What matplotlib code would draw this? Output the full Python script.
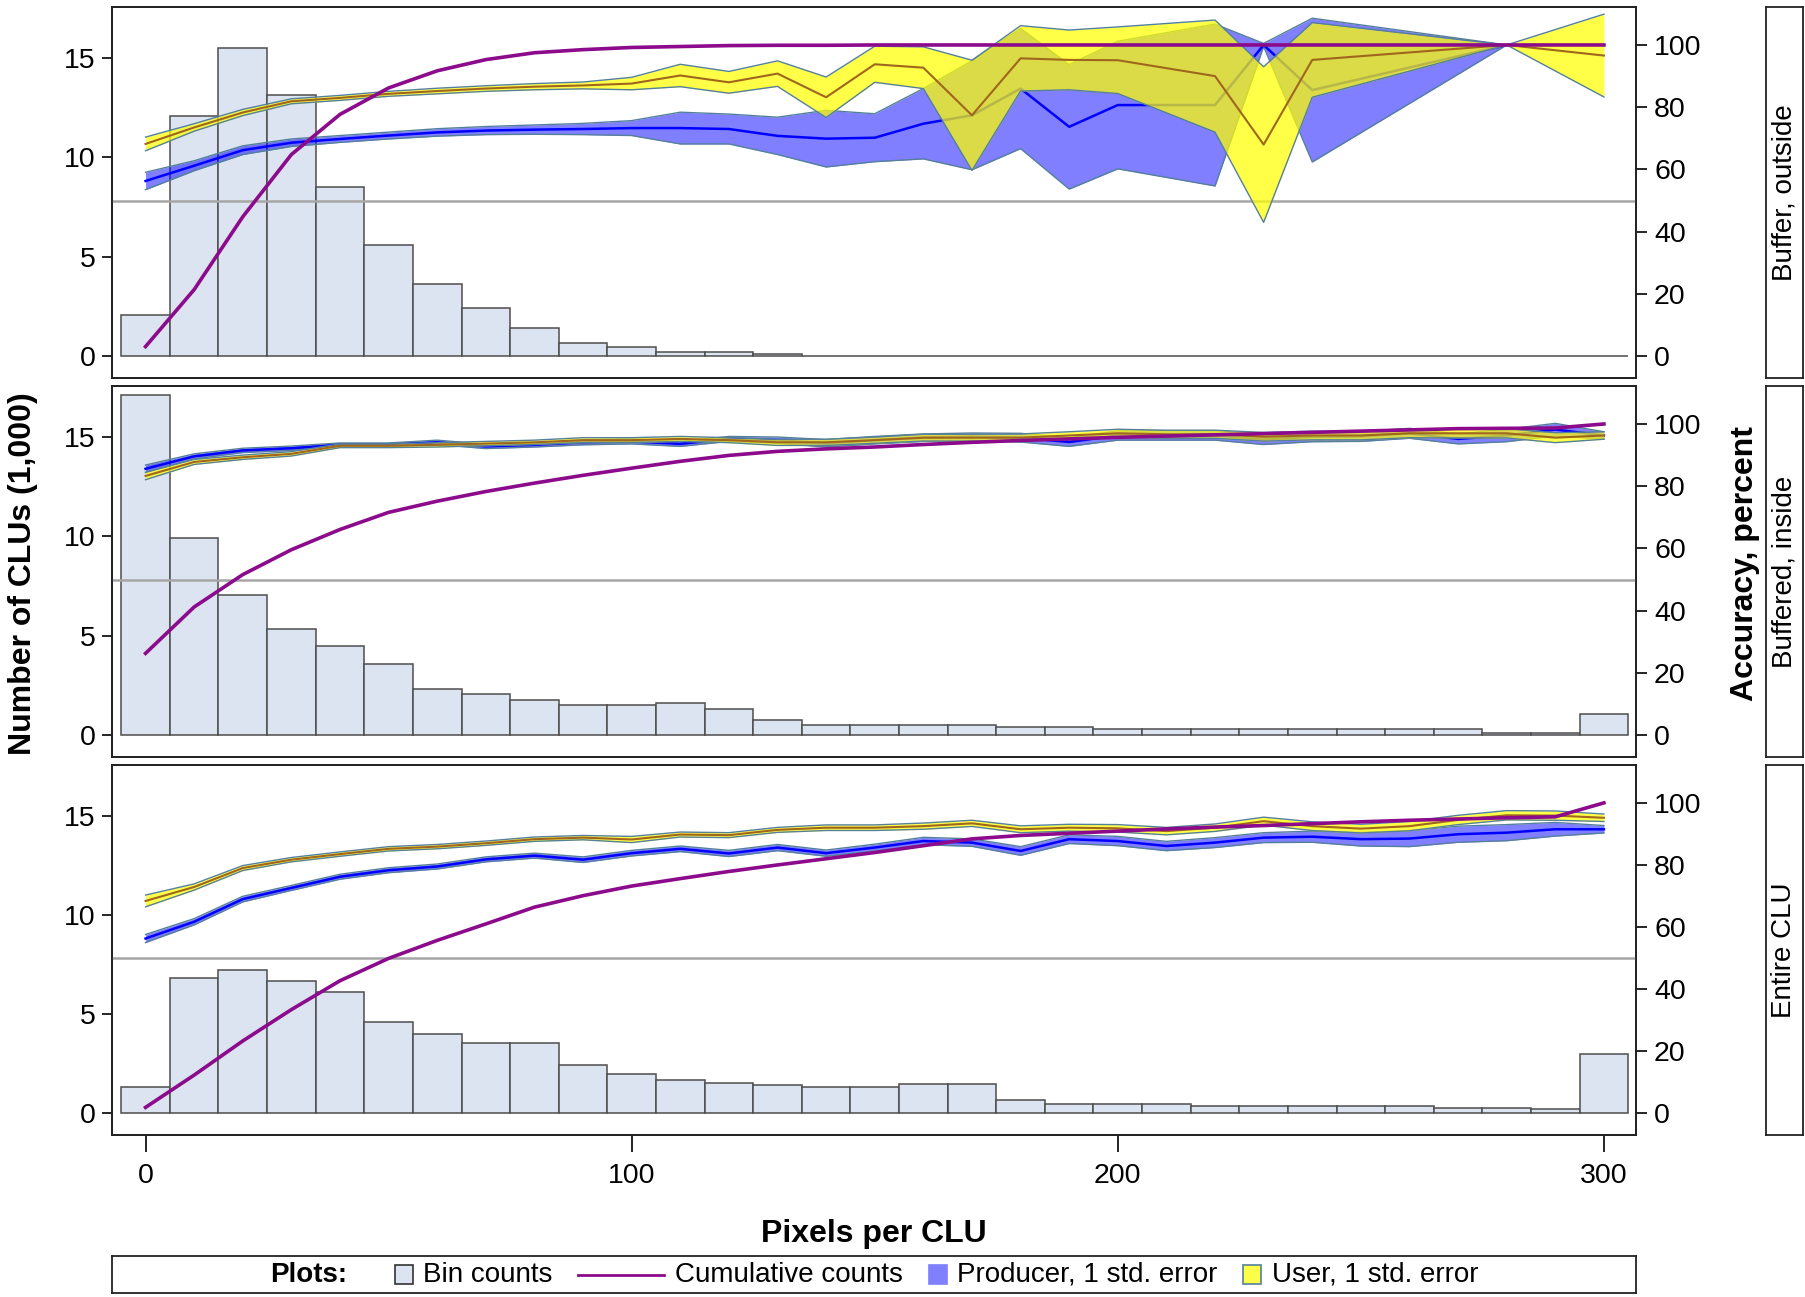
import numpy as np
import matplotlib.pyplot as plt
import matplotlib.patches as mpatches
from matplotlib.lines import Line2D
from matplotlib.offsetbox import HPacker, TextArea, DrawingArea, AnchoredOffsetbox

plt.rcParams['font.family'] = ['Liberation Sans', 'DejaVu Sans']

# bin centres (pixels per CLU)
bin_x = list(range(0, 301, 10))

# ---- panel 1: Buffer, outside
p1_bins = [2.05, 12.05, 15.47, 13.15, 8.52, 5.57, 3.62, 2.42, 1.41, 0.67, 0.47, 0.20, 0.20, 0.10,
           0.02, 0.01, 0.01, 0.01, 0.01, 0.01, 0.01, 0, 0.01, 0.01, 0.01, 0, 0, 0, 0.01, 0, 0.01]
p1_cum = [3.1, 21.4, 44.8, 64.8, 77.7, 86.2, 91.7, 95.3, 97.5, 98.5, 99.2, 99.5, 99.8, 99.9, 99.9,
          100, 100, 100, 100, 100, 100, 100, 100, 100, 100, 100, 100, 100, 100, 100, 100]
p1_acc_x = [0, 10, 20, 30, 40, 50, 60, 70, 80, 90, 100, 110, 120, 130, 140, 150, 160, 170, 180, 190, 200,
            220, 230, 240, 280, 300]
p1_prod = [56.3, 61.2, 66.2, 68.6, 69.8, 70.9, 71.9, 72.5, 72.8, 73.0, 73.3, 73.3, 73.0, 70.8, 69.9, 70.2,
           74.7, 77.4, 86.0, 73.7, 80.7, 80.7, 100.0, 85.5, 100.0, np.nan]
p1_prod_se = [2.8, 1.6, 1.4, 1.2, 1.1, 1.1, 1.2, 1.3, 1.5, 1.8, 2.4, 5.1, 4.8, 6.0, 9.1, 7.7,
              11.3, 17.5, 19.3, 20.0, 20.5, 26.0, 0.5, 23.1, 0.0, np.nan]
p1_user = [68.2, 73.5, 78.3, 81.9, 83.0, 84.3, 85.2, 86.0, 86.6, 87.0, 87.6, 90.2, 88.0, 90.8, 83.2, 93.8,
           92.7, 77.4, 95.7, 95.2, 95.1, 90.0, 68.0, 95.2, 100.0, 96.6]
p1_user_se = [2.2, 1.2, 1.0, 0.8, 0.8, 0.8, 0.9, 0.9, 1.0, 1.1, 2.0, 3.6, 3.5, 4.1, 6.5, 5.8,
              6.7, 17.7, 10.5, 9.6, 10.7, 18.0, 25.0, 12.0, 0.0, 13.3]

# ---- panel 2: Buffered, inside
p2_bins = [17.12, 9.92, 7.05, 5.31, 4.47, 3.55, 2.33, 2.08, 1.78, 1.51, 1.51, 1.61, 1.32, 0.77, 0.49,
           0.49, 0.49, 0.50, 0.40, 0.40, 0.30, 0.30, 0.30, 0.30, 0.30, 0.30, 0.30, 0.30, 0.12, 0.12, 1.04]
p2_cum = [26.3, 41.2, 51.6, 59.6, 66.1, 71.6, 75.2, 78.3, 81.0, 83.5, 85.8, 88.0, 89.9, 91.2, 92.0,
          92.6, 93.4, 94.1, 94.7, 95.2, 95.7, 96.1, 96.5, 96.9, 97.3, 97.7, 98.1, 98.5, 98.6, 98.7, 100]
p2_acc_x = bin_x
p2_prod = [85.6, 89.6, 91.5, 92.2, 93.3, 93.3, 94.1, 92.8, 93.3, 94.1, 94.4, 93.6, 95.2, 94.8, 93.8,
           94.8, 95.6, 95.9, 95.6, 94.2, 96.3, 96.3, 96.3, 95.0, 95.9, 96.0, 97.0, 95.2, 96.3, 98.2, 96.3]
p2_prod_se = [1.2, 0.8, 0.7, 0.7, 0.6, 0.6, 0.7, 0.7, 0.7, 0.8, 0.8, 0.8, 0.8, 1.0, 1.2,
              1.2, 1.2, 1.2, 1.4, 1.4, 1.5, 1.5, 1.5, 1.6, 1.6, 1.6, 1.6, 1.6, 2.0, 2.0, 1.2]
p2_user = [83.3, 87.8, 89.3, 90.4, 93.0, 93.0, 93.3, 93.7, 94.1, 94.8, 94.8, 95.2, 94.8, 94.1, 94.1,
           94.8, 95.6, 95.6, 95.6, 96.3, 97.0, 96.7, 96.7, 95.9, 96.3, 96.3, 97.0, 97.0, 97.0, 95.6, 96.3]
p2_user_se = [1.2, 0.8, 0.7, 0.7, 0.6, 0.6, 0.7, 0.7, 0.7, 0.8, 0.8, 0.8, 0.8, 1.0, 1.0,
              1.0, 1.1, 1.1, 1.2, 1.2, 1.3, 1.3, 1.3, 1.4, 1.4, 1.4, 1.4, 1.5, 1.5, 1.6, 1.2]

# ---- panel 3: Entire CLU
p3_bins = [1.31, 6.83, 7.22, 6.68, 6.11, 4.62, 3.99, 3.52, 3.52, 2.43, 1.96, 1.68, 1.51, 1.41, 1.31,
           1.31, 1.47, 1.47, 0.67, 0.47, 0.47, 0.47, 0.37, 0.37, 0.37, 0.37, 0.37, 0.27, 0.27, 0.20, 2.96]
p3_cum = [1.9, 12.3, 23.3, 33.4, 42.7, 49.9, 55.7, 61.0, 66.4, 70.1, 73.2, 75.6, 77.9, 80.0, 82.0,
          84.0, 86.2, 88.4, 89.5, 90.2, 90.9, 91.6, 92.2, 92.7, 93.3, 93.9, 94.4, 94.8, 95.2, 95.5, 100]
p3_acc_x = bin_x
p3_prod = [56.3, 61.7, 69.0, 72.6, 76.2, 78.3, 79.5, 81.8, 83.0, 81.7, 83.8, 85.2, 83.7, 85.6, 83.8,
           85.6, 87.7, 87.2, 84.5, 88.3, 87.7, 86.1, 87.2, 88.8, 89.1, 88.3, 88.5, 89.9, 90.4, 91.5, 91.5]
p3_prod_se = [1.3, 1.0, 0.9, 0.8, 0.8, 0.8, 0.8, 0.8, 0.8, 0.9, 0.9, 0.9, 1.0, 1.0, 1.0,
              1.1, 1.2, 1.2, 1.4, 1.4, 1.5, 1.5, 1.6, 1.6, 1.8, 2.2, 2.6, 2.6, 2.6, 2.2, 1.2]
p3_user = [68.4, 72.9, 79.0, 81.7, 83.5, 85.2, 85.9, 87.0, 88.3, 88.8, 88.2, 89.8, 89.6, 91.3, 92.0,
           92.0, 92.5, 93.4, 91.5, 92.0, 91.8, 90.9, 92.0, 94.1, 92.5, 91.7, 92.5, 94.5, 96.0, 95.9, 95.2]
p3_user_se = [1.9, 1.0, 0.8, 0.7, 0.7, 0.7, 0.7, 0.7, 0.7, 0.7, 1.0, 0.8, 0.8, 0.8, 0.9,
              0.9, 1.0, 1.0, 1.1, 1.1, 1.2, 1.2, 1.2, 1.3, 1.4, 1.4, 1.5, 1.5, 1.5, 1.5, 1.2]

panels = [
    ('Buffer, outside', p1_bins, p1_cum, p1_acc_x, p1_prod, p1_prod_se, p1_user, p1_user_se),
    ('Buffered, inside', p2_bins, p2_cum, p2_acc_x, p2_prod, p2_prod_se, p2_user, p2_user_se),
    ('Entire CLU', p3_bins, p3_cum, p3_acc_x, p3_prod, p3_prod_se, p3_user, p3_user_se),
]

bar_fc = '#dbe4f0'
bar_ec = '#4d4d4d'
purple = '#8c0a8c'
band_edge = '#55809a'
user_line = '#a0661e'
frame = '#222222'

W, H = 1806, 1297
fig = plt.figure(figsize=(W / 100, H / 100), dpi=100)


def box(l, t, r, b):
    return [l / W, 1 - b / H, (r - l) / W, (b - t) / H]


rows = [(7, 378), (386, 757), (765, 1135)]

for i, (name, bins, cum, ax_x, prod, prod_se, user, user_se) in enumerate(panels):
    t, b = rows[i]
    ax = fig.add_axes(box(112, t, 1636, b))
    ax.bar(bin_x, bins, width=10, color=bar_fc, edgecolor=bar_ec, linewidth=1.1)
    ax.set_xlim(-6.9, 306.6)
    ax.set_ylim(-1.1, 17.55)
    ax.set_yticks([0, 5, 10, 15])
    ax.tick_params(axis='y', labelsize=20.5, length=7, width=1.2, pad=5)
    if i == 2:
        ax.set_xticks([0, 100, 200, 300])
        ax.tick_params(axis='x', labelsize=20.5, length=12, width=1.2, pad=8)
    else:
        ax.set_xticks([])

    ax2 = ax.twinx()
    ax2.set_ylim(-7, 112.2)
    ax2.set_yticks([0, 20, 40, 60, 80, 100])
    ax2.tick_params(axis='y', labelsize=20.5, length=8, width=1.2, pad=5)
    ax2.axhline(50, color='#a6a6a6', lw=1.8, zorder=1)

    x = np.array(ax_x, dtype=float)
    pr = np.array(prod, dtype=float)
    ps = np.array(prod_se, dtype=float)
    us = np.array(user, dtype=float)
    ue = np.array(user_se, dtype=float)

    # producer band
    ax2.fill_between(x, pr - ps, pr + ps, color='#0000ff', alpha=0.5, lw=0, zorder=2)
    ax2.plot(x, pr - ps, color=band_edge, lw=1.0, zorder=2.1)
    ax2.plot(x, pr + ps, color=band_edge, lw=1.0, zorder=2.1)
    ax2.plot(x, pr, color='#0000ff', lw=1.8, zorder=2.2)
    # user band
    ax2.fill_between(x, us - ue, us + ue, color='#ffff00', alpha=0.72, lw=0, zorder=3)
    ax2.plot(x, us - ue, color=band_edge, lw=1.0, zorder=3.1)
    ax2.plot(x, us + ue, color=band_edge, lw=1.0, zorder=3.1)
    ax2.plot(x, us, color=user_line, lw=1.5, zorder=3.2)
    # cumulative counts
    ax2.plot(bin_x, cum, color=purple, lw=2.6, zorder=4)

    for a in (ax, ax2):
        for s in a.spines.values():
            s.set_linewidth(1.3)
            s.set_color(frame)

    sa = fig.add_axes(box(1766, t, 1803, b))
    sa.set_xticks([])
    sa.set_yticks([])
    for s in sa.spines.values():
        s.set_linewidth(1.3)
        s.set_color(frame)
    sa.text(0.5, 0.5, name, rotation=90, ha='center', va='center', fontsize=20,
            transform=sa.transAxes)

fig.text(23 / W, 1 - 574 / H, 'Number of CLUs (1,000)', rotation=90, ha='center', va='center',
         fontsize=23, fontweight='bold')
fig.text(1745 / W, 1 - 564 / H, 'Accuracy, percent', rotation=90, ha='center', va='center',
         fontsize=23, fontweight='bold')
fig.text(874 / W, 1 - 1234 / H, 'Pixels per CLU', ha='center', va='center',
         fontsize=23, fontweight='bold')

# legend
lax = fig.add_axes(box(112, 1256, 1636, 1293))
lax.set_xticks([])
lax.set_yticks([])
for s in lax.spines.values():
    s.set_linewidth(1.3)
    s.set_color(frame)


def square_item(fc, ec, label):
    da = DrawingArea(14, 14, 0, 0)
    da.add_artist(mpatches.Rectangle((0.5, 0.5), 13, 13, facecolor=fc, edgecolor=ec, lw=1.2))
    return HPacker(children=[da, TextArea(label, textprops=dict(fontsize=20))], sep=7, align='center')


def line_item(color, label):
    da = DrawingArea(62, 14, 0, 0)
    da.add_artist(Line2D([0, 62], [7, 7], color=color, lw=2))
    return HPacker(children=[da, TextArea(label, textprops=dict(fontsize=20))], sep=8, align='center')


items = HPacker(children=[
    square_item(bar_fc, '#333333', 'Bin counts'),
    line_item(purple, 'Cumulative counts'),
    square_item('#8080ff', '#8080ff', 'Producer, 1 std. error'),
    square_item('#ffff4a', band_edge, 'User, 1 std. error'),
], sep=18, align='center')
allbox = HPacker(children=[TextArea('Plots:', textprops=dict(fontsize=20, fontweight='bold')), items],
                 sep=34, align='center')
lax.add_artist(AnchoredOffsetbox(loc='center', child=allbox, frameon=False, pad=0, borderpad=0))

fig.savefig('out.png', dpi=100)
